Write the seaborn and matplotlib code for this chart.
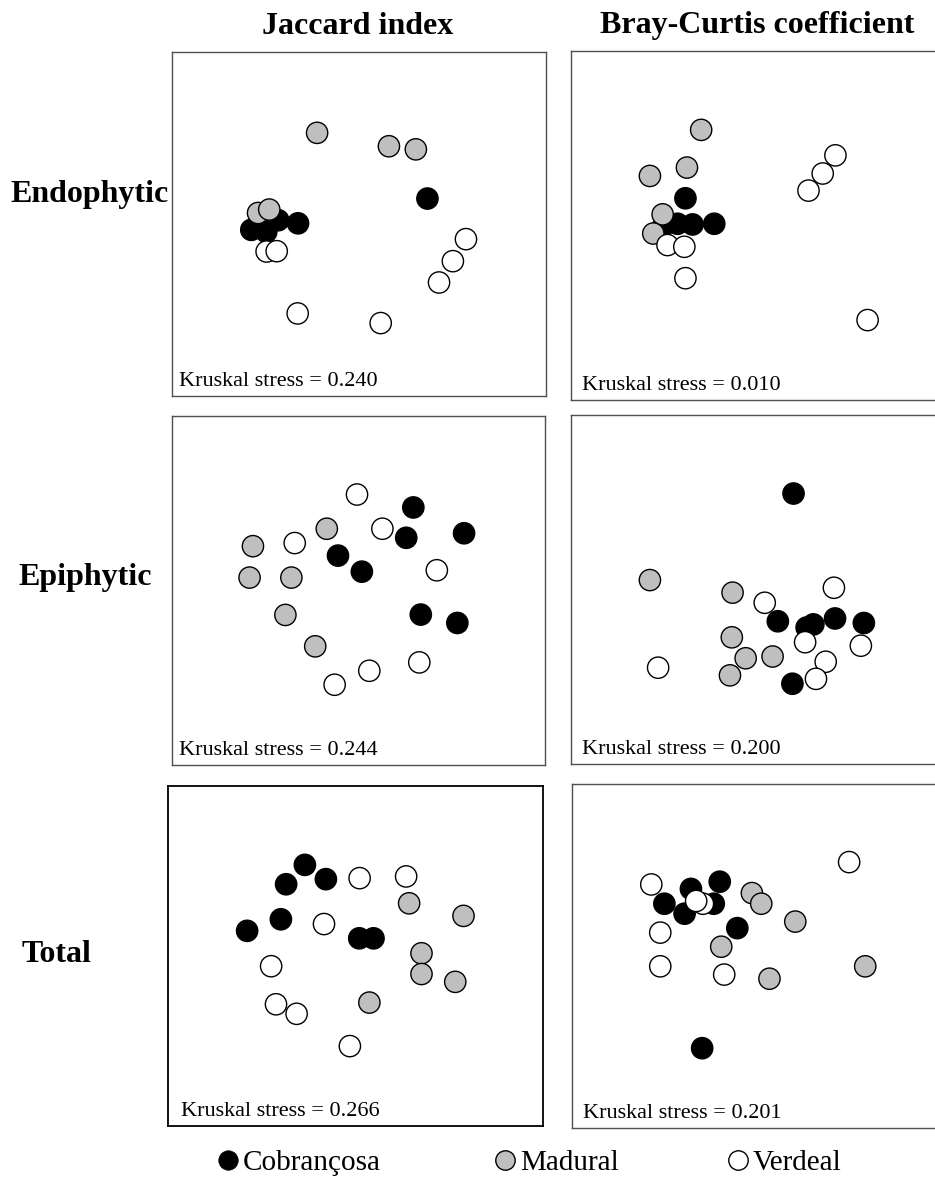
import numpy as np
import pandas as pd
import matplotlib
matplotlib.use("Agg")
import matplotlib.pyplot as plt
from matplotlib.lines import Line2D
import seaborn as sns

sns.set_theme(style="white")
plt.rcParams["font.family"] = ["Liberation Serif", "DejaVu Serif"]
plt.rcParams["text.color"] = "black"

# ---------------- data (NMDS ordination coordinates, arbitrary units 0-100) ----------------
cultivars = ["Cobrançosa", "Madural", "Verdeal"]
col_titles = ["Jaccard index", "Bray-Curtis coefficient"]
row_titles = ["Endophytic", "Epiphytic", "Total"]
stress = [["0.240", "0.010"], ["0.244", "0.200"], ["0.266", "0.201"]]

# Endophytic - Jaccard
endo_jac_cob_x = [68.3, 21.2, 25.2, 28.4, 33.7]
endo_jac_cob_y = [57.4, 48.3, 47.7, 51.1, 50.2]
endo_jac_mad_x = [38.8, 58.0, 65.2, 23.0, 26.0]
endo_jac_mad_y = [76.5, 72.6, 71.7, 53.2, 54.2]
endo_jac_ver_x = [25.3, 28.0, 78.6, 75.1, 71.4, 33.6, 55.8]
endo_jac_ver_y = [42.0, 42.1, 45.6, 39.2, 33.0, 24.0, 21.2]

# Endophytic - Bray-Curtis
endo_bc_cob_x = [30.6, 28.5, 32.5, 38.3, 24.1]
endo_bc_cob_y = [57.8, 50.5, 50.3, 50.5, 48.9]
endo_bc_mad_x = [34.8, 31.0, 21.1, 24.5, 22.0]
endo_bc_mad_y = [77.4, 66.6, 64.2, 53.2, 47.7]
endo_bc_ver_x = [25.8, 30.3, 30.6, 63.5, 67.3, 70.7, 79.3]
endo_bc_ver_y = [44.4, 43.9, 34.9, 60.0, 64.9, 70.1, 22.9]

# Epiphytic - Jaccard
epi_jac_cob_x = [64.7, 62.8, 78.3, 44.5, 50.9, 66.7, 76.5]
epi_jac_cob_y = [73.8, 65.1, 66.4, 60.0, 55.4, 43.1, 40.7]
epi_jac_mad_x = [21.7, 20.8, 32.0, 30.4, 38.4, 41.5]
epi_jac_mad_y = [62.7, 53.7, 53.7, 43.0, 34.0, 67.7]
epi_jac_ver_x = [49.6, 56.4, 32.9, 71.0, 66.3, 52.9, 43.6]
epi_jac_ver_y = [77.5, 67.7, 63.6, 55.8, 29.4, 27.0, 23.0]

# Epiphytic - Bray-Curtis
epi_bc_cob_x = [59.5, 55.3, 63.0, 64.8, 70.6, 78.3, 59.2]
epi_bc_cob_y = [77.5, 40.9, 39.1, 40.0, 41.7, 40.4, 23.0]
epi_bc_mad_x = [21.1, 43.2, 43.0, 46.7, 53.9, 42.5]
epi_bc_mad_y = [52.7, 49.1, 36.3, 30.3, 30.8, 25.4]
epi_bc_ver_x = [70.3, 51.8, 62.6, 77.5, 68.1, 65.5, 23.3]
epi_bc_ver_y = [50.5, 46.2, 34.9, 33.9, 29.3, 24.4, 27.6]

# Total - Jaccard
tot_jac_cob_x = [36.5, 31.5, 42.1, 30.1, 21.1, 51.0, 54.8]
tot_jac_cob_y = [76.8, 71.1, 72.6, 60.8, 57.4, 55.2, 55.2]
tot_jac_mad_x = [64.3, 78.8, 67.6, 67.6, 76.6, 53.7]
tot_jac_mad_y = [65.5, 61.8, 50.8, 44.7, 42.4, 36.3]
tot_jac_ver_x = [51.1, 63.5, 41.6, 27.5, 28.8, 34.3, 48.5]
tot_jac_ver_y = [72.9, 73.4, 59.4, 47.0, 35.8, 33.0, 23.5]

# Total - Bray-Curtis
tot_bc_cob_x = [31.8, 39.5, 24.7, 30.1, 37.9, 44.2, 34.8]
tot_bc_cob_y = [69.5, 71.6, 65.2, 62.3, 65.2, 58.1, 23.2]
tot_bc_mad_x = [48.1, 50.6, 59.7, 39.9, 52.8, 78.4]
tot_bc_mad_y = [68.3, 65.2, 60.0, 52.7, 43.4, 47.0]
tot_bc_ver_x = [21.2, 35.0, 33.2, 23.6, 23.6, 40.7, 74.1]
tot_bc_ver_y = [70.8, 65.2, 66.0, 56.8, 47.0, 44.6, 77.3]

panels = [
    [(endo_jac_cob_x, endo_jac_cob_y, endo_jac_mad_x, endo_jac_mad_y, endo_jac_ver_x, endo_jac_ver_y),
     (endo_bc_cob_x, endo_bc_cob_y, endo_bc_mad_x, endo_bc_mad_y, endo_bc_ver_x, endo_bc_ver_y)],
    [(epi_jac_cob_x, epi_jac_cob_y, epi_jac_mad_x, epi_jac_mad_y, epi_jac_ver_x, epi_jac_ver_y),
     (epi_bc_cob_x, epi_bc_cob_y, epi_bc_mad_x, epi_bc_mad_y, epi_bc_ver_x, epi_bc_ver_y)],
    [(tot_jac_cob_x, tot_jac_cob_y, tot_jac_mad_x, tot_jac_mad_y, tot_jac_ver_x, tot_jac_ver_y),
     (tot_bc_cob_x, tot_bc_cob_y, tot_bc_mad_x, tot_bc_mad_y, tot_bc_ver_x, tot_bc_ver_y)],
]

palette = {"Cobrançosa": "#000000", "Madural": "#bfbfbf", "Verdeal": "#ffffff"}

# ---------------- layout ----------------
W, H = 935, 1187
fig = plt.figure(figsize=(W / 100, H / 100), dpi=100)
fig.patch.set_facecolor("white")

# panel boxes in pixels: (left, top, right, bottom)
boxes = [
    [(172, 52, 546, 396), (571, 51, 945, 400)],
    [(172, 416, 545, 765), (571, 415, 945, 764)],
    [(168, 786, 543, 1126), (572, 784, 946, 1128)],
]
text_x = [[0.02, 0.03], [0.02, 0.03], [0.035, 0.03]]

for r in range(3):
    for c in range(2):
        l, t, rr, b = boxes[r][c]
        ax = fig.add_axes([l / W, (H - b) / H, (rr - l) / W, (b - t) / H])
        cx, cy, mx, my, vx, vy = panels[r][c]
        df = pd.DataFrame({
            "x": list(cx) + list(mx) + list(vx),
            "y": list(cy) + list(my) + list(vy),
            "cultivar": ["Cobrançosa"] * len(cx) + ["Madural"] * len(mx) + ["Verdeal"] * len(vx),
        })
        sns.scatterplot(data=df, x="x", y="y", hue="cultivar", palette=palette,
                        hue_order=cultivars, s=235, edgecolor="black", linewidth=1.0,
                        legend=False, ax=ax, zorder=3)
        ax.set_xlim(0, 100)
        ax.set_ylim(0, 100)
        ax.set_xticks([])
        ax.set_yticks([])
        ax.set_xlabel("")
        ax.set_ylabel("")
        for sp in ax.spines.values():
            sp.set_visible(True)
            if r == 2 and c == 0:
                sp.set_color("black")
                sp.set_linewidth(1.3)
            else:
                sp.set_color("#505050")
                sp.set_linewidth(1.0)
        ax.text(text_x[r][c], 0.028, f"Kruskal stress = {stress[r][c]}",
                transform=ax.transAxes, ha="left", va="baseline", fontsize=16, color="black")

# column titles
fig.text(358 / W, 1 - 27 / H, col_titles[0], ha="center", va="center",
         fontsize=23, fontweight="bold", color="black")
fig.text(757 / W, 1 - 25 / H, col_titles[1], ha="center", va="center",
         fontsize=23, fontweight="bold", color="black")

# row titles
row_pos = [(10, 195), (18, 578), (22, 955)]
for (px, py), name in zip(row_pos, row_titles):
    fig.text(px / W, 1 - py / H, name, ha="left", va="center",
             fontsize=23, fontweight="bold", color="black")

# legend: one entry per cultivar, positioned like the reference
legend_left_px = [218, 495, 728]
for cv, lx in zip(cultivars, legend_left_px):
    h = Line2D([0], [0], marker="o", linestyle="none", markersize=14,
               markerfacecolor=palette[cv], markeredgecolor="black",
               markeredgewidth=1.0 if cv != "Cobrançosa" else 0.5, label=cv)
    leg = fig.legend(handles=[h], loc="center left", bbox_to_anchor=(lx / W, 1 - 1163 / H),
                     frameon=False, fontsize=21, handlelength=0.7, handletextpad=0.15,
                     borderpad=0, borderaxespad=0)
    for txt in leg.get_texts():
        txt.set_color("black")

fig.savefig("out.png", dpi=100, facecolor="white")
